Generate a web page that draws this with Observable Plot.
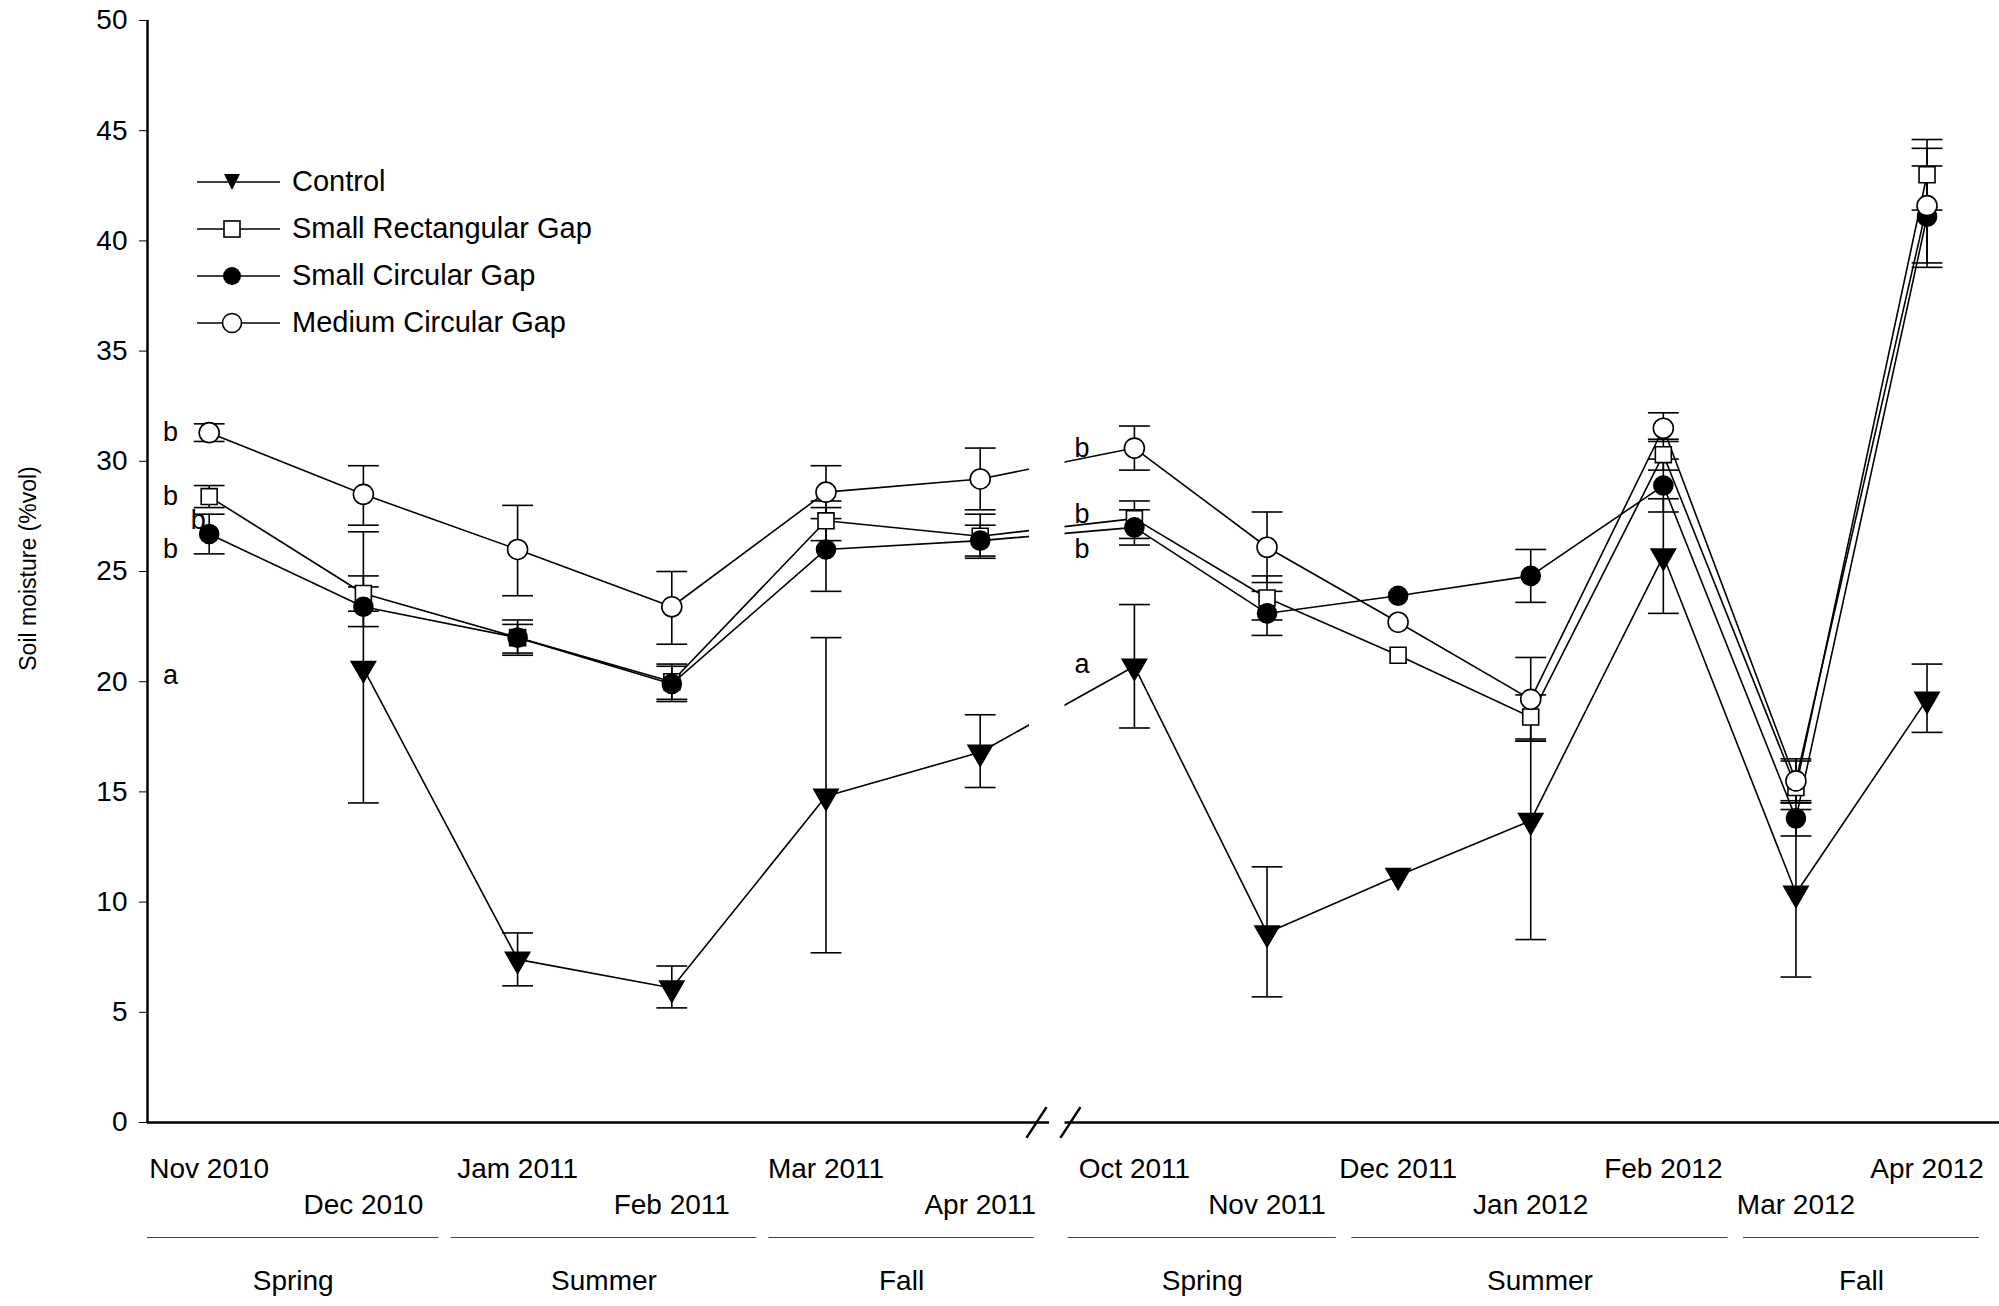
<!DOCTYPE html>
<html><head><meta charset="utf-8">
<script src="https://cdn.jsdelivr.net/npm/d3@7"></script>
<script src="https://cdn.jsdelivr.net/npm/@observablehq/plot@0.6"></script>
<style>
body{margin:0;background:#fff;font-family:"Liberation Sans Narrow","Liberation Sans",sans-serif;}
#wrap{position:relative;width:1999px;height:1306px;}
#legend{position:absolute;left:196px;top:158px;font-size:29px;line-height:47px;}
#legend div{display:flex;align-items:center;}
#legend svg{margin-right:12px;}
</style></head>
<body><div id="wrap"><div id="legend"></div></div>
<script>
const months = ["Nov 2010","Dec 2010","Jam 2011","Feb 2011","Mar 2011","Apr 2011","Oct 2011","Nov 2011","Dec 2011","Jan 2012","Feb 2012","Mar 2012","Apr 2012"];
const monthPos = [0,1,2,3,4,5,6,6.86,7.71,8.57,9.43,10.29,11.14];
const labelRow = [0,1,0,1,0,1,0,1,0,1,0,1,0];
const seriesNames = ["Control","Small Rectangular Gap","Small Circular Gap","Medium Circular Gap"];
const control    = [null,20.6,7.4,6.1,14.8,16.8,20.7,8.6,11.2,13.7,25.7,10.4,19.2];
const controlLo  = [null,14.5,6.2,5.2,7.7,15.2,17.9,5.7,null,8.3,23.1,6.6,17.7];
const controlHi  = [null,26.8,8.6,7.1,22.0,18.5,23.5,11.6,null,17.3,28.3,14.2,20.8];
const rect       = [28.4,24.0,22.0,20.0,27.3,26.6,27.4,23.8,21.2,18.4,30.3,15.2,43.0];
const rectLo     = [27.9,23.2,21.2,19.2,26.4,25.6,26.5,22.8,null,17.4,29.6,14.5,41.4];
const rectHi     = [28.9,24.8,22.8,20.8,28.2,27.6,28.2,24.8,null,19.4,31.0,16.4,44.6];
const scirc      = [26.7,23.4,22.0,19.9,26.0,26.4,27.0,23.1,23.9,24.8,28.9,13.8,41.1];
const scircLo    = [25.8,22.5,21.3,19.1,24.1,25.7,26.2,22.1,null,23.6,27.7,13.0,38.8];
const scircHi    = [27.6,24.3,22.6,20.7,27.9,27.1,27.8,24.1,null,26.0,30.1,14.6,43.4];
const mcirc      = [31.3,28.5,26.0,23.4,28.6,29.2,30.6,26.1,22.7,19.2,31.5,15.5,41.6];
const mcircLo    = [30.9,27.1,23.9,21.7,27.4,27.8,29.6,24.5,null,17.3,30.9,14.5,39.0];
const mcircHi    = [31.7,29.8,28.0,25.0,29.8,30.6,31.6,27.7,null,21.1,32.2,16.5,44.2];
const seasons = [
  {name:"Spring",x1:-0.4,x2:1.49},{name:"Summer",x1:1.57,x2:3.55},{name:"Fall",x1:3.63,x2:5.35},
  {name:"Spring",x1:5.57,x2:7.31},{name:"Summer",x1:7.41,x2:9.85},{name:"Fall",x1:9.95,x2:11.48}];
const letters = [
  {x:-0.25,y:31.3,t:"b"},{x:-0.25,y:28.4,t:"b"},{x:-0.07,y:27.3,t:"b"},{x:-0.25,y:26.0,t:"b"},{x:-0.25,y:20.3,t:"a"},
  {x:5.66,y:30.6,t:"b"},{x:5.66,y:27.6,t:"b"},{x:5.66,y:26.0,t:"b"},{x:5.66,y:20.8,t:"a"}];

const styles = [
  {symbol:"triangle", fill:"black", r:9, rotate:180},
  {symbol:"square", fill:"white", r:9, rotate:0},
  {symbol:"circle", fill:"black", r:9.5, rotate:0},
  {symbol:"circle", fill:"white", r:10, rotate:0}];
const vals=[control,rect,scirc,mcirc], los=[controlLo,rectLo,scircLo,mcircLo], his=[controlHi,rectHi,scircHi,mcircHi];
const data = [];
seriesNames.forEach((s,si)=>months.forEach((m,i)=>{ if(vals[si][i]!=null) data.push({s,si,x:monthPos[i],y:vals[si][i],lo:los[si][i],hi:his[si][i]}); }));
const err = data.filter(d=>d.lo!=null);
const cw = 0.1;

const marks = [
  Plot.ruleY([0],{x1:-0.4,x2:5.45,stroke:"black",strokeWidth:2.5}),
  Plot.ruleY([0],{x1:5.55,x2:11.61,stroke:"black",strokeWidth:2.5}),
  Plot.ruleX([-0.4],{y1:0,y2:50,stroke:"black",strokeWidth:2.5}),
  Plot.link([{a:5.3,b:5.43},{a:5.52,b:5.65}],{x1:"a",x2:"b",y1:-0.7,y2:0.7,stroke:"black",strokeWidth:2.5}),
  Plot.line(data,{x:"x",y:"y",z:"s",stroke:"black",strokeWidth:1.6}),
  Plot.rect([0],{x1:5.32,x2:5.55,y1:1,y2:49,fill:"white"}),
  Plot.ruleX(err,{x:"x",y1:"lo",y2:"hi",stroke:"black",strokeWidth:1.6}),
  Plot.link(err,{x1:d=>d.x-cw,x2:d=>d.x+cw,y1:"lo",y2:"lo",stroke:"black",strokeWidth:1.6}),
  Plot.link(err,{x1:d=>d.x-cw,x2:d=>d.x+cw,y1:"hi",y2:"hi",stroke:"black",strokeWidth:1.6}),
  ...styles.map((st,si)=>Plot.dot(data.filter(d=>d.si===si),{x:"x",y:"y",symbol:()=>st.symbol,fill:st.fill,stroke:"black",strokeWidth:1.6,r:st.r,rotate:st.rotate})),
  Plot.text(letters,{x:"x",y:"y",text:"t",fontSize:27}),
  Plot.text(months,{x:(d,i)=>monthPos[i],y:0,text:d=>d,dy:(0),fontSize:28}),
  Plot.ruleY(seasons,{x1:"x1",x2:"x2",y:()=>0,dy:115,stroke:"#444",strokeWidth:1.2}),
  Plot.text(seasons,{x:d=>(d.x1+d.x2)/2,y:()=>0,text:"name",dy:159,fontSize:28}),
  Plot.axisY({ticks:d3.range(0,51,5),tickSize:8,tickPadding:12,fontSize:28,label:null,x:-0.4})
];
// month labels in two rows
marks.splice(marks.length-4,1,
  Plot.text(months.filter((d,i)=>labelRow[i]===0),{x:(d)=>monthPos[months.indexOf(d)],y:()=>0,text:d=>d,dy:47,fontSize:28}),
  Plot.text(months.filter((d,i)=>labelRow[i]===1),{x:(d)=>monthPos[months.indexOf(d)],y:()=>0,text:d=>d,dy:83,fontSize:28}));

const chart = Plot.plot({
  width:1999,height:1306,marginLeft:147,marginRight:0,marginTop:20,marginBottom:184,
  style:{fontFamily:"'Liberation Sans Narrow','Liberation Sans',sans-serif",color:"black",background:"white"},
  x:{domain:[-0.4,11.61],axis:null},
  y:{domain:[0,50],axis:null},
  clip:false,
  marks
});
const wrap=document.getElementById("wrap");
wrap.insertBefore(chart,wrap.firstChild);
// y label
const lab=document.createElement("div");
lab.textContent="Soil moisture (%vol)";
lab.style.cssText="position:absolute;left:-92px;top:555px;width:240px;text-align:center;transform:rotate(-90deg);font-family:'Liberation Sans',sans-serif;font-size:23px;";
wrap.appendChild(lab);
// legend
const leg=document.getElementById("legend");
const icons=['<path d="M17 -8 L33 -8 L25 8 Z" fill="black"/>','<rect x="17" y="-8" width="16" height="16" fill="white" stroke="black" stroke-width="1.6"/>','<circle cx="25" cy="0" r="9" fill="black"/>','<circle cx="25" cy="0" r="9.5" fill="white" stroke="black" stroke-width="1.6"/>'];
seriesNames.forEach((n,i)=>{
  const d=document.createElement("div");
  d.innerHTML=`<svg width="84" height="24" viewBox="-1 -12 84 24"><line x1="0" x2="84" y1="0" y2="0" stroke="black" stroke-width="1.6"/><g transform="translate(10,0)">${icons[i]}</g></svg><span>${n}</span>`;
  leg.appendChild(d);
});
</script></body></html>
